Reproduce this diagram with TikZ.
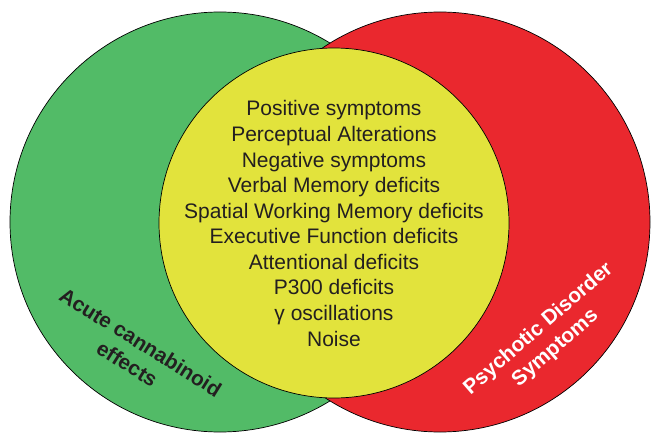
\documentclass[tikz,border=0pt]{standalone}
\usepackage{fontspec}
\setmainfont{Liberation Sans}
\definecolor{vgreen}{RGB}{82,187,103}
\definecolor{vred}{RGB}{234,40,46}
\definecolor{vyellow}{RGB}{226,227,60}
\definecolor{vtext}{RGB}{35,31,32}
\begin{document}
\begin{tikzpicture}[x=1pt,y=-1pt,
  venn/.style={circle, draw=black, line width=0.7pt, inner sep=0pt},
  itemtext/.style={anchor=base, inner sep=0pt, font=\fontsize{21}{25}\selectfont, text=vtext},
  setlabel/.style={align=center, inner sep=0pt, font=\bfseries\fontsize{20.8}{25.5}\selectfont}]
\useasboundingbox (0,0) rectangle (651,436);
\node[venn, fill=vgreen, minimum size=420pt] (green) at (220,222) {};
\node[venn, fill=vred, minimum size=420pt] (red) at (440,222) {};
\node[venn, fill=vyellow, minimum size=350pt] (yellow) at (334,223) {};
\node[itemtext] (l1) at (334,116.0) {Positive symptoms};
\node[itemtext] (l2) at (334,141.6) {Perceptual Alterations};
\node[itemtext] (l3) at (334,167.1) {Negative symptoms};
\node[itemtext] (l4) at (334,192.7) {Verbal Memory deficits};
\node[itemtext] (l5) at (334,218.2) {Spatial Working Memory deficits};
\node[itemtext] (l6) at (334,243.8) {Executive Function deficits};
\node[itemtext] (l7) at (334,269.3) {Attentional deficits};
\node[itemtext] (l8) at (334,294.9) {P300 deficits};
\node[itemtext] (l9) at (334,320.4) {γ oscillations};
\node[itemtext] (l10) at (334,346.0) {Noise};
\node[setlabel, text=vtext, rotate=-32] (glabel) at (134,353) {Acute cannabinoid\\effects};
\node[setlabel, text=white, rotate=41] (rlabel) at (547,338.5) {Psychotic Disorder\\Symptoms};
\end{tikzpicture}
\end{document}
